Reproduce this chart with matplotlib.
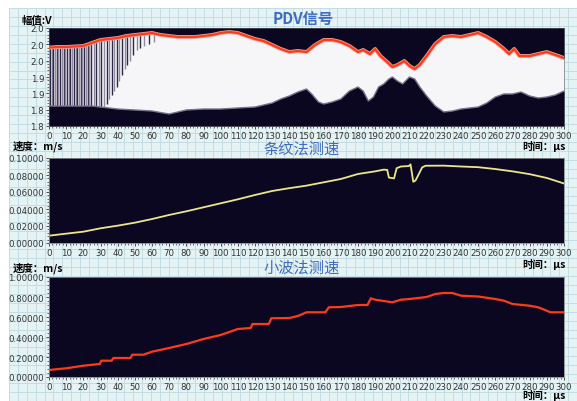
import numpy as np
import matplotlib
matplotlib.use("Agg")
import matplotlib.pyplot as plt
from matplotlib.ticker import MultipleLocator, AutoMinorLocator, FormatStrFormatter

# PDV signal envelope (time in us, amplitude in V)
up_t = [0, 5, 10, 15, 20, 25, 30, 35, 40, 45, 50, 55, 60, 65, 70, 75, 80, 85,
        90, 95, 100, 105, 110, 115, 120, 125, 130, 135, 140, 145, 150, 155,
        160, 165, 170, 175, 180, 183, 187, 190, 193, 197, 200, 203, 207, 210,
        213, 216, 220, 225, 230, 235, 240, 245, 250, 255, 260, 265, 268, 271,
        274, 280, 285, 290, 295, 300]
up_v = [1.9920, 1.9935, 1.9935, 1.9947, 1.9959, 2.0033, 2.0106, 2.0131,
        2.0155, 2.0204, 2.0229, 2.0253, 2.0278, 2.0229, 2.0204, 2.0180,
        2.0180, 2.0180, 2.0204, 2.0229, 2.0278, 2.0302, 2.0278, 2.0204,
        2.0131, 2.0082, 1.9984, 1.9886, 1.9812, 1.9837, 1.9812, 1.9984,
        2.0106, 2.0106, 2.0057, 1.9959, 1.9812, 1.9861, 1.9763, 1.9886,
        1.9714, 1.9567, 1.9445, 1.9494, 1.9592, 1.9469, 1.9396, 1.9494,
        1.9714, 2.0008, 2.0180, 2.0204, 2.0180, 2.0229, 2.0278, 2.0180,
        2.0057, 1.9886, 1.9763, 1.9886, 1.9714, 1.9714, 1.9763, 1.9812,
        1.9739, 1.9665]
lo_t = [0, 25, 30, 35, 40, 45, 50, 55, 60, 65, 70, 75, 80, 85, 90, 95, 100,
        105, 110, 115, 120, 125, 130, 135, 140, 145, 150, 153, 157, 160, 165,
        170, 175, 180, 183, 186, 189, 192, 195, 198, 200, 203, 206, 210, 213,
        216, 220, 225, 230, 235, 240, 245, 250, 255, 260, 265, 270, 275, 280,
        285, 290, 295, 300]
lo_v = [1.8490, 1.8490, 1.8465, 1.8441, 1.8416, 1.8404, 1.8392, 1.8380,
        1.8367, 1.8330, 1.8294, 1.8343, 1.8392, 1.8404, 1.8416, 1.8416,
        1.8416, 1.8429, 1.8441, 1.8453, 1.8465, 1.8514, 1.8563, 1.8661,
        1.8735, 1.8833, 1.8906, 1.8784, 1.8588, 1.8539, 1.8588, 1.8661,
        1.8857, 1.8955, 1.8857, 1.8612, 1.8710, 1.8955, 1.9029, 1.9151,
        1.9200, 1.9102, 1.9029, 1.9200, 1.9151, 1.8955, 1.8735, 1.8490,
        1.8343, 1.8367, 1.8416, 1.8441, 1.8465, 1.8563, 1.8710, 1.8784,
        1.8784, 1.8833, 1.8735, 1.8686, 1.8710, 1.8759, 1.8857]

# fringe stripes in the early part of the signal
stripe_t = [0.5, 1.5, 2.5, 3.5, 4.5, 5.5, 6.5, 7.5, 8.5, 9.5, 10.5, 11.5,
            12.5, 13.5, 14.5, 15.5, 16.5, 17.5, 18.5, 19.5, 20.5, 21.5, 22.5,
            23.5, 24.5, 26, 27.5, 29, 30.5, 32, 33.5, 35, 36.5, 38, 39.5, 41,
            42.5, 44, 45.5, 47, 49, 51, 53, 55.5, 58, 61]
stripe_lo = [1.80, 1.80, 1.80, 1.80, 1.80, 1.80, 1.80, 1.80, 1.80, 1.80,
             1.80, 1.80, 1.80, 1.80, 1.80, 1.80, 1.80, 1.80, 1.80, 1.80,
             1.80, 1.80, 1.80, 1.80, 1.80, 1.80, 1.80, 1.81, 1.83, 1.845,
             1.855, 1.865, 1.875, 1.885, 1.895, 1.91, 1.925, 1.94, 1.95,
             1.96, 1.975, 1.985, 1.99, 1.996, 2.0, 2.005]

# fringe method velocity
fr_t = [0, 10, 20, 30, 40, 50, 60, 70, 80, 90, 100, 110, 120, 130, 140, 150,
        160, 170, 180, 190, 195, 197, 198, 201, 202.5, 205, 209.6, 210.6,
        212.2, 213.5, 217.4, 219.4, 230, 240, 250, 260, 270, 280, 290, 300]
fr_v = [0.0086, 0.0110, 0.0133, 0.0173, 0.0204, 0.0239, 0.0282, 0.0330,
        0.0373, 0.0420, 0.0467, 0.0514, 0.0565, 0.0612, 0.0645, 0.0675,
        0.0714, 0.0753, 0.0812, 0.0843, 0.0863, 0.0860, 0.0770, 0.0760,
        0.0880, 0.0900, 0.0905, 0.0925, 0.0720, 0.0735, 0.0890, 0.0909,
        0.0910, 0.0900, 0.0892, 0.0870, 0.0843, 0.0810, 0.0765, 0.0700]

# wavelet method velocity
wv_t = [0, 10, 20, 29.5, 30.5, 36.5, 37.5, 47.5, 48.5, 55, 60, 70, 80, 90,
        100, 110, 117.5, 118.5, 128, 129.5, 140, 145, 150, 161, 163, 170,
        180, 185.5, 187.5, 190, 200, 205, 210, 220, 225, 230, 235, 240, 250,
        260, 265, 270, 280, 285, 290, 292, 300]
wv_v = [0.070, 0.087, 0.113, 0.130, 0.163, 0.163, 0.190, 0.190, 0.223,
        0.223, 0.253, 0.290, 0.330, 0.380, 0.420, 0.480, 0.490, 0.530,
        0.530, 0.587, 0.590, 0.610, 0.647, 0.647, 0.697, 0.700, 0.720,
        0.720, 0.787, 0.773, 0.747, 0.773, 0.780, 0.800, 0.830, 0.840,
        0.840, 0.813, 0.805, 0.780, 0.763, 0.730, 0.713, 0.697, 0.663,
        0.647, 0.647]

W, H = 577, 402
BG_DARK = "#0b0720"
BLUE = "#3d6cc2"
CJK = ["Noto Sans CJK SC", "DejaVu Sans"]

fig = plt.figure(figsize=(W / 100, H / 100), dpi=100, facecolor="white")

# light grid paper behind everything
bg = fig.add_axes([9 / W, 0, 1 - 9 / W, 1 - 9 / H])
bg.set_facecolor("#e5f3f5")
bg.set_xlim(0, W - 9)
bg.set_ylim(0, H - 9)
bg.set_xticks(np.arange(0, W, 9))
bg.set_yticks(np.arange(0, H, 9))
bg.grid(True, color="#c3dde3", linewidth=0.7)
bg.tick_params(length=0, labelbottom=False, labelleft=False)
for s in bg.spines.values():
    s.set_visible(False)
bg.set_zorder(-10)


def make_axes(top, bottom):
    ax = fig.add_axes([49 / W, 1 - bottom / H, 515 / W, (bottom - top) / H])
    ax.set_facecolor(BG_DARK)
    ax.set_xlim(0, 300)
    ax.xaxis.set_major_locator(MultipleLocator(10))
    ax.xaxis.set_minor_locator(AutoMinorLocator(5))
    ax.yaxis.set_minor_locator(AutoMinorLocator(5))
    ax.tick_params(which="major", length=2.5, width=0.6, color="#333333",
                   labelsize=6.2, labelcolor="#333333", pad=1)
    ax.tick_params(which="minor", length=1.5, width=0.5, color="#333333")
    for s in ax.spines.values():
        s.set_color("#8a8a8a")
        s.set_linewidth(0.6)
    return ax


# PDV signal
ax1 = make_axes(29, 127)
ax1.set_ylim(1.80, 2.04)
ax1.yaxis.set_major_locator(MultipleLocator(0.04))
ax1.yaxis.set_major_formatter(FormatStrFormatter("%.1f"))
ax1.fill(up_t + lo_t[::-1], up_v + lo_v[::-1], color="#f6f6f8", lw=0, zorder=1)
for i, (t, lo) in enumerate(zip(stripe_t, stripe_lo)):
    col = "#2e2844" if i % 2 == 0 else "#8f8aa2"
    ax1.vlines(t, lo, 2.04, color=col, lw=1.0, zorder=2)
ax1.fill_between(up_t, up_v, 2.04, color=BG_DARK, lw=0, zorder=3)
ax1.fill_between(lo_t, 1.80, lo_v, color=BG_DARK, lw=0, zorder=3)
ax1.plot(lo_t, lo_v, color="#77728a", lw=1.0, zorder=4)
ax1.plot(up_t, up_v, color="#f5a090", lw=2.8, zorder=4)
ax1.plot(up_t, up_v, color="#ff3a1c", lw=1.6, zorder=5)

# fringe velocity
ax2 = make_axes(159, 244)
ax2.set_ylim(0, 0.1)
ax2.yaxis.set_major_locator(MultipleLocator(0.02))
ax2.yaxis.set_major_formatter(FormatStrFormatter("%.5f"))
ax2.plot(fr_t, fr_v, color="#ece68a", lw=1.3)

# wavelet velocity
ax3 = make_axes(278, 378)
ax3.set_ylim(0, 1.0)
ax3.yaxis.set_major_locator(MultipleLocator(0.2))
ax3.yaxis.set_major_formatter(FormatStrFormatter("%.5f"))
ax3.plot(wv_t, wv_v, color="#ff3a1c", lw=1.6)


def px_text(x, y, s, **kw):
    fig.text(x / W, 1 - y / H, s, family=CJK, va="center", **kw)


px_text(22, 21, "幅值:V", fontsize=7.5, fontweight="bold", ha="left")
px_text(303, 19, "PDV信号", fontsize=11, fontweight="bold", color=BLUE, ha="center")
px_text(13, 146, "速度：m/s", fontsize=7.5, fontweight="bold", ha="left")
px_text(302, 149, "条纹法测速", fontsize=11, color=BLUE, ha="center")
px_text(566, 147, "时间：μs", fontsize=7.5, fontweight="bold", ha="right")
px_text(13, 268, "速度：m/s", fontsize=7.5, fontweight="bold", ha="left")
px_text(302, 268, "小波法测速", fontsize=11, color=BLUE, ha="center")
px_text(566, 265, "时间：μs", fontsize=7.5, fontweight="bold", ha="right")
px_text(566, 396, "时间：μs", fontsize=7.5, fontweight="bold", ha="right")

fig.savefig("out.png", dpi=100, facecolor="white")
